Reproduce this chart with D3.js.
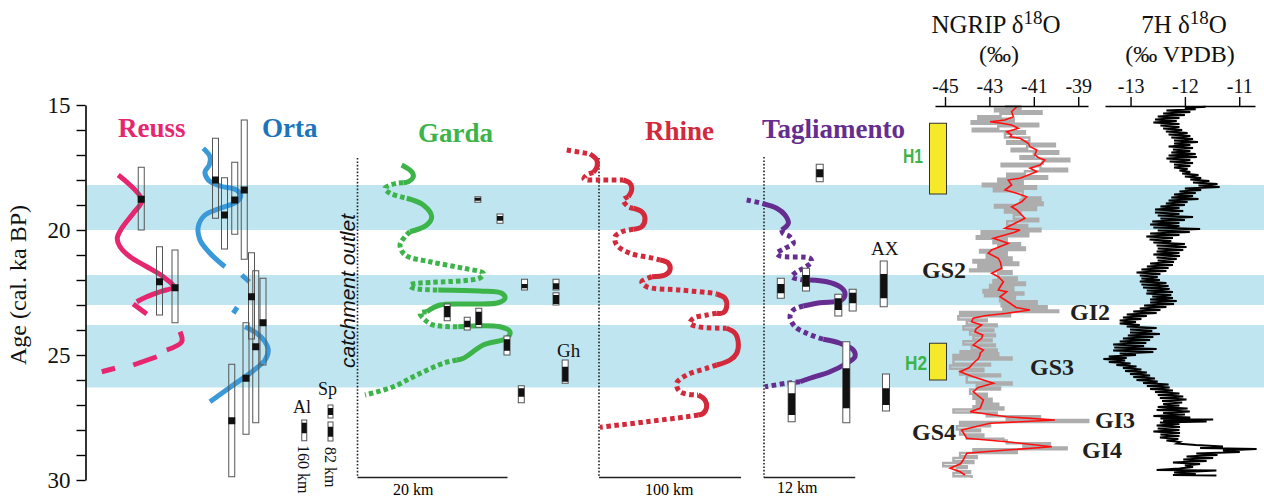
<!DOCTYPE html>
<html><head><meta charset="utf-8">
<script src="https://cdn.jsdelivr.net/npm/d3@7"></script>
<style>body{margin:0;background:#fff}svg{display:block}</style>
</head><body>
<svg id="c" width="1264" height="498"></svg>
<script>
// ---------------- DATA ----------------
const ageTickValues = [15,16,17,18,19,20,21,22,23,24,25,26,27,28,29,30];
const ageTickLabels = [15,20,25,30];
const bands = [[18.2,20.0],[21.8,23.0],[23.8,26.3]];
const heinrich = [{label:"H1", top:15.73, bot:18.56},{label:"H2", top:24.53, bot:26.0}];
const ngripTicks = [-45,-43,-41,-39];
const h7Ticks = [-13,-12,-11];
const eventLabels = ["GS2","GI2","GS3","GI3","GS4","GI4"];
const panelTitles = ["Reuss","Orta","Garda","Rhine","Tagliamento"];
const scaleLabels = ["20 km","100 km","12 km"];

// glacier extent curves: [extent, age]
const reussCurve = [
 {s:"solid", p:[[12.9,17.8],[22.3,18.8],[18.9,19.33],[14.3,19.93],[12.5,20.33],[13.6,20.67],[17.6,21.07],[24.3,21.47],[30.9,21.87],[34.9,22.27],[29.6,22.47],[24.3,22.67],[20.3,22.87]]},
 {s:"solid", p:[[18.9,22.96],[24.3,23.36]]},
 {s:"solid", p:[[37.6,24.07],[38.3,24.47],[32.3,24.8]]},
 {s:"solid", p:[[28.3,25.07],[18.9,25.4]]},
 {s:"solid", p:[[11.6,25.53],[6.3,25.67]]}
];
const ortaCurve = [
 {s:"solid", p:[[46.9,16.73],[49.6,17.07],[49.3,17.4],[47.6,17.67],[48.9,18.0],[53.6,18.24],[59.6,18.37],[61.9,18.6],[60.3,18.87],[53.6,19.13],[47.6,19.4],[44.9,19.87],[45.6,20.4],[49.6,20.93],[55.6,21.47]]},
 {s:"solid", p:[[62.3,21.8],[65.3,22.07]]},
 {s:"solid", p:[[60.5,23.09],[58.9,23.33]]},
 {s:"solid", p:[[63.6,23.87],[68.3,24.13],[71.6,24.47],[72.9,24.8],[71.6,25.2],[66.9,25.63],[58.9,26.2],[49.6,26.87]]}
];
const gardaCurve = [
 {s:"solid", p:[[5.89,17.4],[7.23,17.67],[7.44,17.87],[6.77,18.07],[6.11,18.11]]},
 {s:"dot", p:[[6.11,18.11],[5.23,18.13],[3.67,18.33],[4.33,18.53],[6.56,18.73]]},
 {s:"solid", p:[[6.56,18.73],[8.77,19.0],[9.89,19.47],[9.23,19.8],[7.0,20.07]]},
 {s:"dot", p:[[7.0,20.07],[6.33,20.27],[5.67,20.6],[6.33,21.0],[9.67,21.27],[14.11,21.53],[16.77,21.73],[16.3,21.92],[7.0,22.2],[7.4,22.32],[10.77,22.4]]},
 {s:"solid", p:[[10.77,22.4],[16.33,22.44],[19.23,22.53],[19.67,22.73],[18.77,22.91],[15.0,22.96],[11.0,23.0],[9.23,23.27]]},
 {s:"dot", p:[[9.23,23.27],[8.33,23.33],[9.0,23.6],[10.11,23.8],[13.44,23.87]]},
 {s:"solid", p:[[13.44,23.87],[19.0,23.87],[20.33,24.07],[19.89,24.33],[16.77,24.6],[14.11,25.13],[13.23,25.2]]},
 {s:"dot", p:[[13.23,25.2],[11.44,25.33],[7.89,25.8],[4.77,26.27],[1.0,26.6]]}
];
const rhineCurve = [
 {s:"dot", p:[[-22.7,16.8],[-11.3,16.91],[-6.3,16.96]]},
 {s:"solid", p:[[-6.3,16.96],[-1.6,17.2],[-1.4,17.47],[-4.0,17.7]]},
 {s:"dot", p:[[-4.0,17.7],[-8.7,17.8],[-10.6,17.96],[0.7,18.0],[17.1,18.0]]},
 {s:"solid", p:[[17.1,18.0],[21.8,18.13],[23.0,18.4],[20.6,18.67]]},
 {s:"dot", p:[[20.6,18.67],[17.1,18.8],[20.6,19.07],[24.2,19.13]]},
 {s:"solid", p:[[24.2,19.13],[30.1,19.27],[32.4,19.53],[30.1,19.87],[24.2,19.97]]},
 {s:"dot", p:[[24.2,19.97],[16.0,20.07],[11.3,20.27],[12.5,20.6],[21.8,20.93],[38.2,21.13],[43.0,21.2]]},
 {s:"solid", p:[[43.0,21.2],[48.8,21.33],[50.0,21.6],[46.5,21.8],[37.1,21.87]]},
 {s:"dot", p:[[37.1,21.87],[30.1,22.07],[33.6,22.27],[57.0,22.4],[80.5,22.53],[82.9,22.56]]},
 {s:"solid", p:[[82.9,22.56],[88.7,22.73],[89.9,23.07],[87.5,23.31],[82.9,23.33]]},
 {s:"dot", p:[[82.9,23.33],[75.8,23.4],[66.4,23.53],[64.1,23.73],[69.9,23.87],[87.5,23.93],[89.9,23.93]]},
 {s:"solid", p:[[89.9,23.93],[95.8,24.13],[98.1,24.53],[97.0,24.93],[92.3,25.2],[82.9,25.4]]},
 {s:"dot", p:[[82.9,25.4],[75.8,25.53],[61.8,25.8],[54.7,26.13],[57.0,26.47],[67.6,26.6],[69.9,26.6]]},
 {s:"solid", p:[[69.9,26.6],[74.6,26.8],[75.8,27.07],[73.5,27.33],[69.9,27.4]]},
 {s:"dot", p:[[69.9,27.4],[61.8,27.47],[33.6,27.67],[0.7,27.89]]}
];
const tagliaCurve = [
 {s:"dot", p:[[-2.28,18.8],[-0.3,18.93],[0,18.96]]},
 {s:"solid", p:[[0,18.96],[1.67,19.13],[2.76,19.4],[3.2,19.73],[2.33,20.0]]},
 {s:"dot", p:[[2.33,20.0],[2.5,20.13],[3.42,20.27],[3.86,20.53],[2.76,20.73],[1.67,20.93],[2.11,21.04],[6.05,21.13],[6.28,21.27],[5.17,21.53],[4.3,21.67],[3.64,21.87],[4.8,21.98],[6.05,22.0]]},
 {s:"solid", p:[[6.05,22.0],[8.25,22.07],[10.0,22.27],[10.66,22.53],[10.22,22.8],[7.37,22.91],[5.17,23.04]]},
 {s:"dot", p:[[5.17,23.04],[3.86,23.2],[3.42,23.47],[4.08,23.87],[5.62,24.13],[7.37,24.33],[7.8,24.37]]},
 {s:"solid", p:[[7.8,24.37],[10.0,24.53],[11.75,24.8],[11.97,25.07],[10.88,25.33],[8.68,25.67],[6.05,25.93],[4.74,26.07]]},
 {s:"dot", p:[[4.74,26.07],[2.99,26.13],[0.13,26.27]]}
];

// dated samples: x = extent, top/bot = age range, mark = best age
const reussBoxes = [{x:22.1,top:17.49,bot:20.0,mark:18.77},{x:29.4,top:20.67,bot:23.4,mark:22.07},{x:35.6,top:20.8,bot:23.71,mark:22.31}];
const ortaBoxes = [
 {x:51.8,top:16.33,bot:19.53,mark:18.0},{x:55.4,top:17.91,bot:20.76,mark:19.4},
 {x:59.5,top:17.29,bot:20.17,mark:18.8},{x:63.3,top:15.6,bot:21.17,mark:18.4},
 {x:66.2,top:20.91,bot:24.36,mark:22.67},{x:67.9,top:21.63,bot:27.71,mark:24.67},
 {x:70.8,top:21.93,bot:25.4,mark:23.71},{x:64.0,top:23.71,bot:28.17,mark:25.93},
 {x:58.3,top:25.37,bot:29.87,mark:27.63}];
const alBoxes = [{x:87.3,top:27.6,bot:28.43,f0:27.71,f1:28.13}];
const spBoxes = [{x:97.8,top:27.0,bot:27.52,f0:27.12,f1:27.4},{x:97.8,top:27.68,bot:28.44,f0:27.87,f1:28.27}];
const gardaBoxes = [
 {x:16.05,top:18.67,bot:18.89,f0:18.71,f1:18.83},{x:19.0,top:19.36,bot:19.73,f0:19.44,f1:19.63},
 {x:22.27,top:21.97,bot:22.4,f0:22.16,f1:22.33},{x:26.47,top:21.97,bot:22.4,f0:22.13,f1:22.37},
 {x:26.47,top:22.51,bot:23.0,f0:22.6,f1:22.96},{x:11.96,top:22.96,bot:23.63,f0:23.04,f1:23.49},
 {x:14.63,top:23.49,bot:24.0,f0:23.63,f1:23.89},{x:16.17,top:23.13,bot:23.89,f0:23.27,f1:23.8},
 {x:19.93,top:24.24,bot:25.0,f0:24.37,f1:24.83},{x:27.69,top:25.2,bot:26.13,f0:25.47,f1:26.07},
 {x:21.84,top:26.23,bot:26.91,f0:26.33,f1:26.67}];
const tagliaBoxes = [
 {x:7.33,top:17.37,bot:18.07,f0:17.57,f1:17.89},{x:2.21,top:21.93,bot:22.73,f0:22.16,f1:22.53},
 {x:5.53,top:21.53,bot:22.44,f0:21.8,f1:22.27},{x:9.78,top:22.57,bot:23.44,f0:22.73,f1:23.2},
 {x:11.67,top:22.37,bot:23.24,f0:22.51,f1:22.93},{x:15.75,top:21.24,bot:23.07,f0:21.76,f1:22.73},
 {x:3.64,top:26.07,bot:27.67,f0:26.53,f1:27.4},{x:10.83,top:24.47,bot:27.71,f0:25.53,f1:27.13},
 {x:16.05,top:25.76,bot:27.24,f0:26.33,f1:27.0}];

// NGRIP d18O: [age, value]
const ngripRaw = [
[15.05,-42.3],[15.15,-41.6],[15.25,-42.75],[15.35,-40.65],[15.45,-42.5],[15.55,-43.5],[15.65,-41.9],[15.75,-43.8],[15.85,-40.8],[15.95,-42.6],[16.05,-43.75],[16.15,-41.4],[16.3,-42.3],[16.45,-41.2],[16.55,-42.2],[16.65,-40.05],[16.75,-41.3],[16.85,-42.0],[16.95,-39.9],[17.05,-41.0],[17.15,-41.6],[17.25,-39.4],[17.35,-40.6],[17.45,-42.45],[17.55,-40.7],[17.65,-39.5],[17.75,-41.4],[17.85,-42.2],[17.95,-40.4],[18.05,-42.6],[18.15,-41.5],[18.25,-43.3],[18.35,-40.9],[18.45,-42.8],[18.55,-41.5],[18.7,-41.5],[18.8,-40.7],[18.9,-41.6],[19.0,-40.6],[19.1,-42.75],[19.2,-40.9],[19.3,-42.3],[19.4,-41.6],[19.55,-41.9],[19.65,-40.8],[19.8,-42.2],[19.9,-41.3],
[19.95,-42.2],[20.05,-40.7],[20.15,-43.35],[20.25,-41.25],[20.35,-43.57],[20.45,-42.22],[20.53,-42.82],[20.6,-41.62],[20.7,-42.6],[20.8,-41.4],[20.9,-43.42],[21.0,-42.22],[21.1,-43.12],[21.2,-42.0],[21.3,-43.72],[21.4,-41.7],[21.5,-43.5],[21.58,-42.45],[21.65,-43.87],[21.75,-42.0],[21.9,-42.6],[22.0,-41.77],[22.1,-42.82],[22.2,-41.4],[22.3,-42.97],[22.4,-41.92],[22.5,-43.27],[22.58,-41.47],[22.65,-43.2],[22.75,-41.85],[22.85,-42.52],[22.95,-40.87],[23.05,-42.45],[23.15,-40.42],[23.22,-42.37],[23.28,-39.9],[23.38,-44.32],[23.45,-42.07],[23.58,-44.4],[23.65,-43.12],[23.78,-44.02],[23.85,-42.67],[23.98,-44.17],[24.05,-42.82],[24.18,-43.87],[24.25,-42.75],[24.38,-43.72],[24.45,-42.9],[24.58,-44.17],[24.65,-42.75],[24.78,-43.8],[24.85,-42.67],
[24.93,-44.3],[25.0,-42.6],[25.1,-44.62],[25.18,-42.0],[25.35,-44.62],[25.42,-42.97],[25.55,-44.77],[25.65,-43.27],[25.78,-44.32],[25.85,-42.52],[26.1,-44.02],[26.18,-42.0],[26.3,-43.57],[26.38,-42.52],[26.55,-43.87],[26.65,-43.12],[26.75,-43.72],[26.85,-42.9],[26.95,-43.57],[27.05,-42.6],[27.1,-43.72],[27.18,-42.37],[27.3,-44.62],[27.38,-42.67],[27.45,-43.12],[27.52,-40.72],[27.6,-42.22],[27.68,-38.55],[27.78,-44.32],[27.85,-42.97],[27.98,-44.47],[28.05,-43.42],[28.18,-44.32],[28.25,-43.27],[28.35,-44.02],[28.42,-42.37],[28.53,-42.22],[28.6,-40.27],[28.7,-41.47],[28.77,-39.52],[28.85,-43.72],[28.92,-41.77],[29.05,-44.32],[29.12,-43.57],[29.25,-44.62],[29.32,-43.72],[29.45,-45.08],[29.52,-44.02],[29.65,-44.47],[29.72,-43.87],[29.85,-44.62],[29.92,-43.8]];
const ngripSmooth = [
[15.07,-41.77],[15.27,-42.0],[15.47,-41.92],[15.6,-42.3],[15.67,-42.97],[15.73,-42.45],[15.8,-42.0],[15.93,-41.7],[16.07,-42.22],[16.2,-42.0],[16.27,-42.07],[16.33,-41.62],[16.53,-41.25],[16.67,-41.17],[16.8,-40.87],[17.0,-40.95],[17.1,-40.8],[17.2,-40.5],[17.4,-40.72],[17.53,-41.17],[17.67,-40.87],[17.8,-41.25],[17.93,-41.62],[18.0,-42.15],[18.2,-42.0],[18.4,-42.3],[18.53,-41.77],[18.67,-41.32],[18.87,-41.55],[19.07,-42.0],[19.2,-41.77],[19.53,-41.4],[19.8,-42.0],[19.93,-42.3],[20.0,-41.62],[20.1,-41.9],[20.33,-42.82],[20.53,-42.15],[20.8,-42.9],[20.93,-43.05],[21.13,-42.6],[21.3,-42.5],[21.53,-42.45],[21.73,-42.9],[21.87,-42.6],[22.07,-42.37],[22.25,-42.5],[22.4,-42.6],[22.47,-42.22],[22.67,-42.52],[22.93,-42.07],[23.1,-41.8],[23.2,-41.17],[23.33,-42.22],[23.43,-43.2],[23.53,-43.73],[23.67,-43.8],[23.8,-43.35],[23.95,-43.6],[24.07,-43.65],[24.2,-43.3],[24.33,-43.35],[24.6,-43.73],[24.8,-43.27],[24.93,-43.42],[25.0,-43.42],[25.15,-43.5],[25.33,-43.73],[25.5,-43.9],[25.67,-44.32],[25.87,-43.73],[26.13,-42.82],[26.3,-43.5],[26.47,-43.73],[26.8,-43.27],[27.13,-43.42],[27.27,-43.87],[27.47,-42.22],[27.6,-40.05],[27.73,-42.97],[28.0,-44.25],[28.33,-44.02],[28.47,-42.22],[28.67,-40.19],[28.8,-42.22],[28.93,-44.02],[29.2,-44.18],[29.35,-44.3],[29.53,-44.77],[29.67,-44.32],[29.8,-44.1]];

// 7H speleothem d18O: [age, value]
const h7Series = [
[15.07,-11.62],[15.12,-12.0],[15.17,-11.8],[15.22,-12.34],[15.28,-11.9],[15.34,-12.4],[15.4,-12.0],[15.46,-12.5],[15.52,-12.1],[15.58,-12.55],[15.64,-12.15],[15.7,-12.58],[15.76,-12.1],[15.82,-12.45],[15.88,-12.1],[15.94,-12.4],[16.0,-12.05],[16.06,-12.35],[16.12,-11.95],[16.18,-12.3],[16.24,-11.9],[16.3,-12.25],[16.36,-11.85],[16.42,-12.2],[16.48,-11.76],[16.54,-12.2],[16.6,-11.9],[16.66,-12.3],[16.72,-11.85],[16.78,-12.22],[16.84,-11.9],[16.9,-12.25],[16.96,-11.8],[17.02,-12.3],[17.08,-11.78],[17.14,-12.34],[17.2,-11.9],[17.26,-12.28],[17.32,-11.85],[17.38,-12.2],[17.44,-11.9],[17.5,-12.2],[17.56,-11.95],[17.62,-12.1],[17.68,-11.9],[17.74,-12.05],[17.8,-11.75],[17.86,-12.0],[17.92,-11.7],[17.98,-11.9],[18.04,-11.55],[18.1,-11.85],[18.16,-11.4],[18.22,-11.75],[18.28,-11.36],[18.34,-12.0],[18.4,-11.7],[18.46,-12.1],[18.52,-11.8],[18.58,-12.2],[18.64,-11.85],[18.7,-12.25],[18.76,-11.75],[18.82,-12.3],[18.88,-11.95],[18.94,-12.35],[19.0,-12.0],[19.06,-12.45],[19.12,-12.1],[19.18,-12.55],[19.24,-12.03],[19.3,-12.55],[19.36,-12.1],[19.42,-12.5],[19.48,-11.85],[19.54,-12.45],[19.6,-12.0],[19.66,-12.6],[19.72,-12.1],[19.78,-12.64],[19.84,-12.1],
[19.9,-12.58],[19.96,-11.72],[20.02,-12.5],[20.08,-11.91],[20.14,-12.64],[20.2,-12.1],[20.26,-12.71],[20.32,-12.22],[20.38,-12.65],[20.44,-12.25],[20.5,-12.58],[20.56,-12.0],[20.62,-12.52],[20.68,-11.97],[20.74,-12.5],[20.8,-12.03],[20.86,-12.52],[20.92,-12.1],[20.98,-12.58],[21.04,-12.09],[21.1,-12.52],[21.16,-12.15],[21.22,-12.5],[21.28,-12.2],[21.34,-12.64],[21.4,-12.22],[21.46,-12.7],[21.52,-12.3],[21.58,-12.8],[21.64,-12.34],[21.7,-12.89],[21.76,-12.45],[21.82,-12.83],[21.88,-12.5],[21.94,-12.8],[22.0,-12.46],[22.06,-12.83],[22.12,-12.34],[22.18,-12.8],[22.24,-12.3],[22.3,-12.77],[22.36,-12.28],[22.42,-12.7],[22.48,-12.22],[22.54,-12.71],[22.6,-12.25],[22.66,-12.6],[22.72,-12.22],[22.78,-12.64],[22.84,-12.15],[22.9,-12.64],[22.96,-12.2],[23.02,-12.75],[23.08,-12.34],[23.14,-12.83],[23.2,-12.45],[23.26,-12.95],[23.32,-12.52],[23.38,-13.07],[23.44,-12.7],[23.5,-13.14],[23.56,-12.8],[23.62,-13.2],[23.68,-12.9],[23.74,-13.2],[23.8,-12.83],[23.86,-13.07],[23.92,-12.52],[23.98,-13.01],[24.04,-12.6],[24.1,-13.01],[24.16,-12.46],[24.22,-13.05],[24.28,-12.58],[24.34,-13.14],[24.4,-12.64],[24.46,-13.2],[24.52,-12.71],[24.58,-13.32],[24.64,-12.75],[24.7,-13.3],[24.76,-12.52],[24.82,-13.32],
[24.88,-12.58],[24.94,-13.2],[25.0,-12.9],[25.06,-13.4],[25.12,-13.07],[25.16,-13.5],[25.22,-13.1],[25.28,-13.4],[25.34,-13.0],[25.4,-13.26],[25.46,-12.89],[25.52,-13.14],[25.58,-12.8],[25.64,-13.1],[25.7,-12.7],[25.76,-13.01],[25.82,-12.64],[25.88,-12.95],[25.94,-12.55],[26.0,-12.89],[26.06,-12.5],[26.12,-12.77],[26.18,-12.3],[26.24,-12.7],[26.3,-12.28],[26.36,-12.64],[26.42,-12.22],[26.48,-12.55],[26.54,-12.1],[26.6,-12.5],[26.66,-12.03],[26.72,-12.46],[26.78,-11.97],[26.84,-12.42],[26.9,-12.05],[26.96,-12.4],[27.02,-12.1],[27.08,-12.5],[27.14,-11.95],[27.2,-12.52],[27.26,-11.91],[27.32,-12.4],[27.38,-12.0],[27.44,-12.58],[27.5,-11.9],[27.54,-12.45],[27.58,-11.48],[27.62,-12.4],[27.66,-11.6],[27.7,-12.46],[27.76,-12.1],[27.82,-12.52],[27.88,-12.09],[27.94,-12.5],[28.0,-12.1],[28.06,-12.58],[28.12,-12.09],[28.18,-12.45],[28.24,-12.1],[28.3,-12.46],[28.36,-12.12],[28.42,-12.34],[28.48,-12.09],[28.54,-12.15],[28.6,-11.8],[28.66,-11.3],[28.72,-11.72],[28.76,-10.68],[28.82,-11.3],[28.88,-10.99],[28.94,-11.79],[29.0,-11.4],[29.06,-11.97],[29.12,-11.48],[29.18,-12.03],[29.24,-11.6],[29.3,-12.22],[29.36,-11.72],[29.42,-12.0],[29.48,-11.85],[29.54,-12.1],[29.6,-12.52],[29.62,-11.42],[29.7,-12.2],[29.76,-11.8],[29.8,-12.22],[29.82,-11.42]];

// ---------------- DRAWING ----------------
const SERIF = "'Liberation Serif','Times New Roman',serif";
const SANS = "'Liberation Sans',Arial,sans-serif";
const svg = d3.select("#c");
const y = d3.scaleLinear().domain([15,30]).range([105,480]);

const xRO = d3.scaleLinear().domain([0,100]).range([86,336]);
const xGarda = d3.scaleLinear().domain([0,20]).range([357.5,507.5]);
const xRhine = d3.scaleLinear().domain([0,100]).range([599,741]);
const xTaglia = d3.scaleLinear().domain([0,12]).range([764,855.2]);
const xN = d3.scaleLinear().domain([-45.45,-38.56]).range([935,1088]);
const xH = d3.scaleLinear().domain([-13.47,-10.71]).range([1105,1255]);

const colors = {Reuss:"#e6266f", OrtaLine:"#3a9ad9", Orta:"#1c75bc", Garda:"#3cb449", Rhine:"#d2293b", Tagliamento:"#662d91"};

// bands
svg.append("g").selectAll("rect").data(bands).join("rect")
  .attr("x",86).attr("width",1264-86)
  .attr("y",d=>y(d[0])).attr("height",d=>y(d[1])-y(d[0]))
  .attr("fill","#bfe5f0");

// left axis
const ax = svg.append("g").attr("transform","translate(85.5,0)")
  .call(d3.axisLeft(y).tickValues(ageTickValues).tickSize(9).tickSizeOuter(0).tickPadding(6)
    .tickFormat(d=> ageTickLabels.includes(d) ? d : ""));
ax.select(".domain").attr("stroke","#000").attr("stroke-width",1.6);
ax.selectAll(".tick line").attr("stroke","#000").attr("stroke-width",1.4);
ax.selectAll(".tick text").attr("font-family",SERIF).attr("font-size",23).attr("fill","#111");
svg.append("text").attr("transform","translate(26,285) rotate(-90)")
  .attr("text-anchor","middle").attr("font-family",SERIF).attr("font-size",24).attr("fill","#111")
  .text("Age (cal. ka BP)");

// curves
function drawCurve(segs, xs, color, dash){
  const line = d3.line().x(d=>xs(d[0])).y(d=>y(d[1])).curve(d3.curveCatmullRom.alpha(0.5));
  svg.append("g").selectAll("path").data(segs).join("path")
    .attr("d",d=>line(d.p)).attr("fill","none").attr("stroke",color).attr("stroke-width",5)
    .attr("stroke-linecap","butt").attr("stroke-linejoin","round")
    .attr("stroke-dasharray",d=>d.s==="dot"?dash:null);
}

// baselines & scale bars
function baseline(xs, y0, kmMax){
  svg.append("line").attr("x1",xs(0)).attr("x2",xs(0)).attr("y1",y0).attr("y2",477.5)
    .attr("stroke","#222").attr("stroke-width",1.6).attr("stroke-dasharray","1.6,1.8");
  svg.append("line").attr("x1",xs(0)).attr("x2",xs(kmMax)).attr("y1",477.5).attr("y2",477.5)
    .attr("stroke","#222").attr("stroke-width",1.6);
}
baseline(xGarda,158,20);
baseline(xRhine,158,100);
baseline(xTaglia,157,12);
svg.append("text").attr("x",393).attr("y",495).attr("font-family",SERIF).attr("font-size",16).text(scaleLabels[0]);
svg.append("text").attr("x",645).attr("y",495).attr("font-family",SERIF).attr("font-size",16).text(scaleLabels[1]);
svg.append("text").attr("x",777).attr("y",493).attr("font-family",SERIF).attr("font-size",16).text(scaleLabels[2]);

drawCurve(reussCurve, xRO, colors.Reuss, null);
drawCurve(ortaCurve, xRO, colors.OrtaLine, null);
drawCurve(gardaCurve, xGarda, colors.Garda, "4.5,3");
drawCurve(rhineCurve, xRhine, colors.Rhine, "4.5,3.5");
drawCurve(tagliaCurve, xTaglia, colors.Tagliamento, "4.5,3.5");

// tall boxes with mark
function tallBoxes(data, xs){
  const g = svg.append("g");
  g.selectAll("rect.b").data(data).join("rect").attr("class","b")
    .attr("x",d=>xs(d.x)-3).attr("width",6).attr("y",d=>y(d.top)).attr("height",d=>y(d.bot)-y(d.top))
    .attr("fill","none").attr("stroke","#555").attr("stroke-width",1);
  g.selectAll("rect.m").data(data).join("rect").attr("class","m")
    .attr("x",d=>xs(d.x)-3.5).attr("width",7).attr("y",d=>y(d.mark)-3.5).attr("height",7)
    .attr("fill","#111");
}
tallBoxes(reussBoxes, xRO);
tallBoxes(ortaBoxes, xRO);

function rangeBoxes(data, xs, w){
  const g = svg.append("g");
  g.selectAll("rect.b").data(data).join("rect").attr("class","b")
    .attr("x",d=>xs(d.x)-w/2).attr("width",w).attr("y",d=>y(d.top)).attr("height",d=>y(d.bot)-y(d.top))
    .attr("fill","#fff").attr("stroke","#555").attr("stroke-width",1);
  g.selectAll("rect.f").data(data).join("rect").attr("class","f")
    .attr("x",d=>xs(d.x)-w/2).attr("width",w).attr("y",d=>y(d.f0)).attr("height",d=>y(d.f1)-y(d.f0))
    .attr("fill","#111");
}
rangeBoxes(alBoxes, xRO, 5);
rangeBoxes(spBoxes, xRO, 5);
rangeBoxes(gardaBoxes, xGarda, 6);
rangeBoxes(tagliaBoxes, xTaglia, 7);

// titles
const titlePos = {Reuss:[118,137], Orta:[262,137], Garda:[418,142], Rhine:[645,140], Tagliamento:[762,138]};
panelTitles.forEach(t=>{
  svg.append("text").attr("x",titlePos[t][0]).attr("y",titlePos[t][1])
    .attr("font-family",SERIF).attr("font-weight","bold").attr("font-size",27)
    .attr("fill",colors[t]).text(t);
});

// misc labels
function lbl(x,yy,t,size){
  return svg.append("text").attr("x",x).attr("y",yy).attr("font-family",SERIF).attr("font-size",size).attr("fill","#111").text(t);
}
lbl(557,357,"Gh",19);
lbl(871,255,"AX",19);
lbl(293,413,"Al",18);
lbl(318,395,"Sp",18);
svg.append("text").attr("transform","translate(298,445) rotate(90)").attr("font-family",SERIF).attr("font-size",16).attr("fill","#111").text("160 km");
svg.append("text").attr("transform","translate(325,447) rotate(90)").attr("font-family",SERIF).attr("font-size",16).attr("fill","#111").text("82 km");
svg.append("text").attr("transform","translate(355,291) rotate(-90)").attr("text-anchor","middle")
  .attr("font-family",SANS).attr("font-style","italic").attr("font-size",21).attr("fill","#111").text("catchment outlet");

// Heinrich events
svg.append("g").selectAll("rect").data(heinrich).join("rect")
  .attr("x",929.5).attr("width",17).attr("y",d=>y(d.top)).attr("height",d=>y(d.bot)-y(d.top))
  .attr("fill","#f6e929").attr("stroke","#333").attr("stroke-width",1);
svg.append("text").attr("x",903).attr("y",163).attr("font-family",SANS).attr("font-weight","bold")
  .attr("font-size",20).attr("textLength",20).attr("lengthAdjust","spacingAndGlyphs").attr("fill","#3cb449").text(heinrich[0].label);
svg.append("text").attr("x",905).attr("y",370).attr("font-family",SANS).attr("font-weight","bold")
  .attr("font-size",20).attr("textLength",22).attr("lengthAdjust","spacingAndGlyphs").attr("fill","#3cb449").text(heinrich[1].label);

// NGRIP
const rawLine = d3.line().x(d=>xN(d[1])).y(d=>y(d[0])).curve(d3.curveStepAfter);
svg.append("path").attr("d",rawLine(ngripRaw)).attr("fill","none").attr("stroke","#adadad").attr("stroke-width",2.4);
const smLine = d3.line().x(d=>xN(d[1])).y(d=>y(d[0]));
svg.append("path").attr("d",smLine(ngripSmooth)).attr("fill","none").attr("stroke","#ff1010").attr("stroke-width",1.6);

// 7H
const hLine = d3.line().x(d=>xH(d[1])).y(d=>y(d[0]));
svg.append("path").attr("d",hLine(h7Series)).attr("fill","none").attr("stroke","#000").attr("stroke-width",1.8);

// top axes
function topAxis(xs, ticks){
  const g = svg.append("g").attr("transform","translate(0,106)")
    .call(d3.axisTop(xs).tickValues(ticks).tickSize(9).tickSizeOuter(0).tickPadding(4).tickFormat(d=>"-"+Math.abs(d)));
  g.select(".domain").attr("stroke","#000").attr("stroke-width",1.6);
  g.selectAll(".tick line").attr("stroke","#000").attr("stroke-width",1.4);
  g.selectAll(".tick text").attr("font-family",SERIF).attr("font-size",20).attr("fill","#111");
}
topAxis(xN, ngripTicks);
topAxis(xH, h7Ticks);

function isoTitle(cx, pre){
  const t = svg.append("text").attr("x",cx).attr("y",33).attr("text-anchor","middle")
    .attr("font-family",SERIF).attr("font-size",25).attr("fill","#111");
  t.append("tspan").text(pre);
  t.append("tspan").attr("font-size",19).attr("dy",-9).text("18");
  t.append("tspan").attr("dy",9).text("O");
}
isoTitle(996,"NGRIP δ");
isoTitle(1184,"7H δ");
svg.append("text").attr("x",999).attr("y",62).attr("text-anchor","middle").attr("font-family",SERIF).attr("font-size",24).attr("fill","#111").text("(‰)");
svg.append("text").attr("x",1180).attr("y",62).attr("text-anchor","middle").attr("font-family",SERIF).attr("font-size",24).attr("fill","#111").text("(‰ VPDB)");

// stadial / interstadial labels
const evPos = [[922,278],[1070,320],[1030,375],[1095,428],[912,440],[1082,458]];
eventLabels.forEach((t,i)=>{
  svg.append("text").attr("x",evPos[i][0]).attr("y",evPos[i][1]).attr("font-family",SERIF)
    .attr("font-weight","bold").attr("font-size",24).attr("fill","#231f20").text(t);
});
</script>
</body></html>
